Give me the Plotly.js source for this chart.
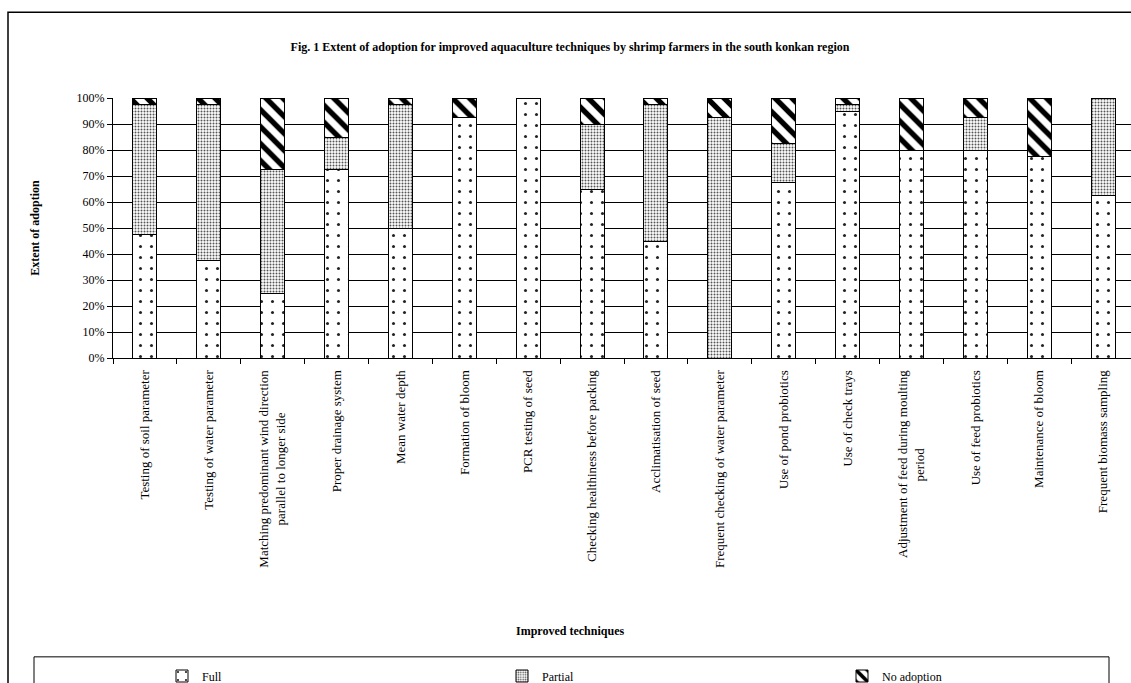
<!DOCTYPE html>
<html>
<head>
<meta charset="utf-8">
<script src="https://cdn.plot.ly/plotly-3.0.1.min.js"></script>
<style>
  html, body { margin: 0; padding: 0; overflow: hidden; background: #fff; }
  #chart { width: 1250px; height: 700px; }
</style>
</head>
<body>
<div id="chart"></div>
<script>
// ---- data ----
const techniques = [
  "Testing of soil parameter",
  "Testing of water parameter",
  "Matching predominant wind direction<br>parallel to longer side",
  "Proper drainage system",
  "Mean water depth",
  "Formation of bloom",
  "PCR testing of seed",
  "Checking healthiness before packing",
  "Acclimatisation of seed",
  "Frequent checking of water parameter",
  "Use of pond probiotics",
  "Use of check trays",
  "Adjustment of feed during moulting<br>period",
  "Use of feed probiotics",
  "Maintenance of bloom",
  "Frequent biomass sampling"
];
const fullAdoption    = [47.5, 37.5, 25, 72.5, 50, 92.5, 100, 65, 45, 0, 67.5, 95, 80, 80, 77.5, 62.5];
const partialAdoption = [50, 60, 47.5, 12.5, 47.5, 0, 0, 25, 52.5, 92.5, 15, 2.5, 0, 12.5, 0, 37.5];
const noAdoption      = [2.5, 2.5, 27.5, 15, 2.5, 7.5, 0, 10, 2.5, 7.5, 17.5, 2.5, 20, 7.5, 22.5, 0];
const seriesNames = ["Full", "Partial", "No adoption"];
const yTickVals   = [0, 10, 20, 30, 40, 50, 60, 70, 80, 90, 100];
const yTickLabels = ["0%", "10%", "20%", "30%", "40%", "50%", "60%", "70%", "80%", "90%", "100%"];

// ---- layout geometry (pixels) ----
const W = 1250, H = 700;
const M = { l: 113, r: W - 1135, t: 98, b: 341 };
const PW = W - M.l - M.r, PH = H - M.t - M.b;
const px = x => (x - M.l) / PW;          // pixel x -> paper x
const py = y => (H - M.b - y) / PH;      // pixel y -> paper y

const serif = "Liberation Serif, Times New Roman, serif";
const line = { color: "#000", width: 1 };

// centre the lines of multi-line rotated tick labels (Plotly end-aligns them)
const ctx = document.createElement("canvas").getContext("2d");
ctx.font = "13px 'Liberation Serif'";
const NBSP = "\u00a0";
const spaceW = ctx.measureText(NBSP).width || 3.25;
const tickText = techniques.map(t => {
  const parts = t.split("<br>");
  if (parts.length < 2) return t;
  const widths = parts.map(p => ctx.measureText(p).width);
  const maxW = Math.max(...widths);
  return parts.map((p, i) => p + NBSP.repeat(Math.round((maxW - widths[i]) / 2 / spaceW))).join("<br>");
});

const traces = [
  { y: fullAdoption, name: seriesNames[0],
    pattern: { shape: ".", size: 11, solidity: 0.06, fgcolor: "#222", bgcolor: "#fff" } },
  { y: partialAdoption, name: seriesNames[1],
    pattern: { shape: ".", size: 3, solidity: 0.35, fgcolor: "#555", bgcolor: "#fff" } },
  { y: noAdoption, name: seriesNames[2],
    pattern: { shape: "\\", size: 12, solidity: 0.45, fgcolor: "#000", bgcolor: "#fff" } }
].map(s => ({
  type: "bar",
  x: techniques,
  y: s.y,
  name: s.name,
  width: 0.375,
  marker: { color: "#fff", line: line, pattern: s.pattern },
  hoverinfo: "x+y+name"
}));

const layout = {
  width: W, height: H,
  margin: M,
  paper_bgcolor: "#fff",
  plot_bgcolor: "#fff",
  barmode: "stack",
  font: { family: serif, color: "#000", size: 12 },
  title: {
    text: "<b>Fig. 1 Extent of adoption for improved aquaculture techniques by shrimp farmers in the south konkan region</b>",
    font: { family: serif, size: 12, color: "#000" },
    x: 570 / W, xref: "container", xanchor: "center",
    y: 1 - 47 / H, yref: "container", yanchor: "middle"
  },
  xaxis: {
    type: "category",
    tickmode: "array",
    tickvals: techniques,
    ticktext: tickText,
    tickangle: -90,
    tickfont: { family: serif, size: 13, color: "#000" },
    ticks: "outside", ticklen: 5, tickcolor: "#000",
    tickson: "boundaries",
    ticklabelstandoff: 6,
    showline: true, linecolor: "#000", linewidth: 1,
    showgrid: false,
    automargin: false,
    fixedrange: true
  },
  yaxis: {
    range: [0, 100],
    tickmode: "array",
    tickvals: yTickVals,
    ticktext: yTickLabels,
    tickfont: { family: serif, size: 12, color: "#000" },
    ticks: "outside", ticklen: 5, tickcolor: "#000",
    showline: true, linecolor: "#000", linewidth: 1,
    showgrid: true, gridcolor: "#000", gridwidth: 1,
    zeroline: false,
    automargin: false,
    fixedrange: true,
    title: {
      text: "<b>Extent of adoption</b>",
      font: { family: serif, size: 12, color: "#000" },
      standoff: 34
    }
  },
  legend: {
    orientation: "h",
    x: px(162), xanchor: "left",
    y: py(676), yanchor: "middle",
    font: { family: serif, size: 12, color: "#000" },
    entrywidth: 295, entrywidthmode: "pixels",
    bgcolor: "rgba(0,0,0,0)",
    borderwidth: 0,
    traceorder: "normal"
  },
  annotations: [
    {
      text: "<b>Improved techniques</b>",
      xref: "paper", yref: "paper",
      x: px(570), y: py(633),
      xanchor: "center", yanchor: "middle",
      showarrow: false,
      font: { family: serif, size: 12, color: "#000" }
    }
  ],
  shapes: [
    { type: "rect", xref: "paper", yref: "paper",
      x0: px(8), x1: px(1240), y0: py(12), y1: py(900),
      line: { color: "#000", width: 1.5 }, fillcolor: "rgba(0,0,0,0)", layer: "below" },
    { type: "rect", xref: "paper", yref: "paper",
      x0: px(34), x1: px(1109), y0: py(659), y1: py(900),
      line: { color: "#000", width: 1 }, fillcolor: "rgba(0,0,0,0)", layer: "below" }
  ],
  showlegend: true
};

Plotly.newPlot("chart", traces, layout, { displayModeBar: false, staticPlot: true });
</script>
</body>
</html>
